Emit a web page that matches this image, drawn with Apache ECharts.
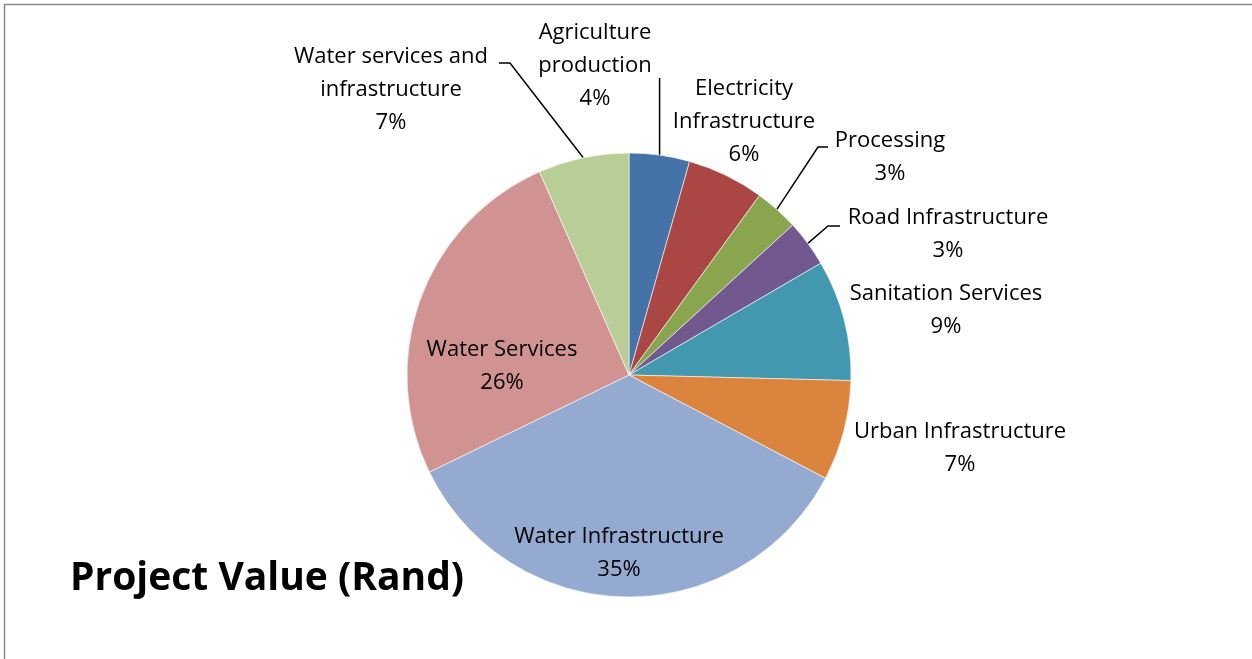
<!DOCTYPE html>
<html>
<head>
<meta charset="utf-8">
<script src="https://cdn.jsdelivr.net/npm/echarts@6/dist/echarts.min.js"></script>
<style>
html,body{margin:0;padding:0;background:#fff;}
#chart{width:1252px;height:659px;}
</style>
</head>
<body>
<div id="chart"></div>
<script>
const categories = [
  "Agriculture\nproduction",
  "Electricity\nInfrastructure",
  "Processing",
  "Road Infrastructure",
  "Sanitation Services",
  "Urban Infrastructure",
  "Water Infrastructure",
  "Water Services",
  "Water services and\ninfrastructure"
];
const values = [4.4, 5.6, 3.2, 3.4, 8.8, 7.3, 35.1, 25.6, 6.6];
const colors = ["#4572A7", "#AA4643", "#89A54E", "#71588F", "#4198AF", "#DB843D", "#94AAD0", "#D19392", "#B9CD96"];
const titleText = "Project Value (Rand)";

// label placement (layout only)
const labelPos = [
  {x: 595, y: 65.5, line: "vert", end: [660, 78]},
  {x: 744, y: 121.5},
  {x: 890, y: 157, elbow: [818, 147], end: [828, 147]},
  {x: 948, y: 234, elbow: [828, 226], end: [840, 226]},
  {x: 946, y: 310},
  {x: 960, y: 448},
  {x: 619, y: 553},
  {x: 502, y: 366},
  {x: 391, y: 89.5, elbow: [510, 63], end: [499, 63]}
];

const FONT = "'Open Sans', Lato, sans-serif";
const chart = echarts.init(document.getElementById('chart'), null, {renderer: 'canvas'});

const data = categories.map((c, i) => ({
  name: c,
  value: values[i],
  itemStyle: {color: colors[i]},
  labelLine: {show: !!labelPos[i].end}
}));

chart.setOption({
  animation: false,
  backgroundColor: '#fff',
  title: {
    text: titleText,
    left: 65,
    top: 554,
    textStyle: {fontFamily: FONT, fontSize: 39, fontWeight: 'bold', color: '#000'}
  },
  graphic: [{
    type: 'polyline',
    shape: {points: [[4.5, 700], [4.5, 4.5], [1300, 4.5]]},
    style: {stroke: '#8a8a8a', lineWidth: 1.5, fill: null},
    silent: true
  }],
  series: [{
    type: 'pie',
    center: [629, 375],
    radius: 222,
    startAngle: 90,
    clockwise: true,
    data: data,
    itemStyle: {borderColor: '#ffffff', borderWidth: 0.6},
    label: {
      show: true,
      position: 'outside',
      formatter: p => p.name + '\n' + Math.round(p.percent) + '%',
      fontFamily: FONT,
      fontSize: 22,
      lineHeight: 33,
      color: '#000',
      align: 'center'
    },
    labelLine: {show: false, lineStyle: {color: '#000', width: 1.5}},
    labelLayout: function (params) {
      const i = params.dataIndex;
      const p = labelPos[i];
      const out = {x: p.x, y: p.y, align: 'center', verticalAlign: 'middle'};
      if (p.end) {
        let s;
        if (params.labelLinePoints && params.labelLinePoints[0]) {
          s = params.labelLinePoints[0];
        }
        if (p.line === 'vert') {
          out.labelLinePoints = [s, [s[0], p.end[1]], [s[0], p.end[1]]];
        } else {
          out.labelLinePoints = [s, p.elbow, p.end];
        }
      }
      return out;
    }
  }]
});
</script>
</body>
</html>
